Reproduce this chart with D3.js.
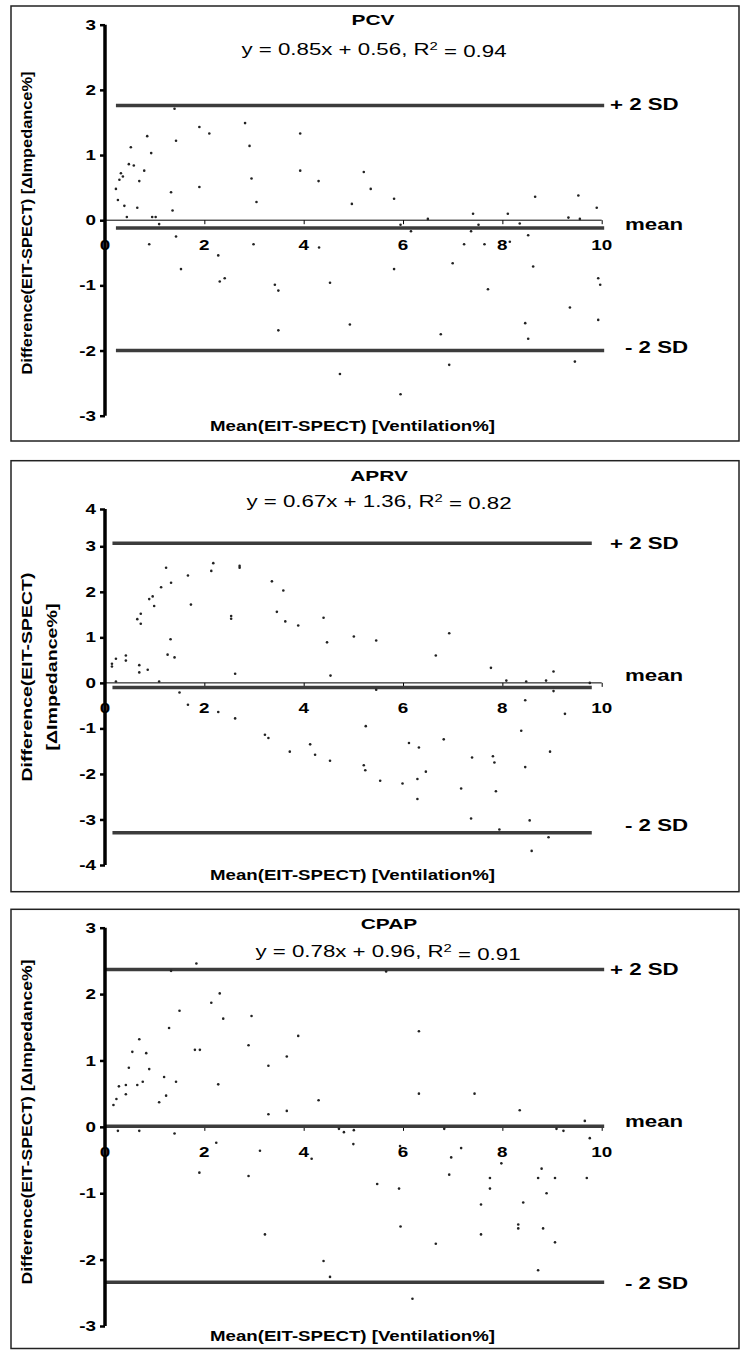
<!DOCTYPE html>
<html>
<head>
<meta charset="utf-8">
<script src="https://cdn.jsdelivr.net/npm/d3@7"></script>
<style>
  body { margin: 0; background: #fff; }
  svg { display: block; }
  text { font-family: "Liberation Sans", Arial, sans-serif; fill: #000; }
</style>
</head>
<body>
<div id="chart"></div>
<script>
// Bland-Altman points, [mean, difference]
var pcvPoints = [
  [1.40,1.71],[1.90,1.43],[2.10,1.33],[2.82,1.49],[2.91,1.14],[3.93,1.33],[3.93,0.76],[4.30,0.60],
  [5.21,0.74],[5.35,0.48],[4.97,0.25],[3.05,0.28],[2.95,0.64],[1.90,0.51],[1.43,1.22],[0.85,1.29],
  [0.93,1.03],[0.52,1.12],[0.48,0.86],[0.58,0.84],[0.79,0.76],[0.69,0.60],[0.29,0.62],[0.32,0.72],
  [0.36,0.67],[0.22,0.48],[0.26,0.31],[0.39,0.22],[0.65,0.19],[1.33,0.43],[1.36,0.15],[0.44,0.05],
  [0.95,0.05],[1.02,0.05],[1.09,-0.06],[0.89,-0.37],[1.43,-0.25],[1.53,-0.75],[2.28,-0.54],[2.31,-0.94],
  [2.41,-0.89],[2.99,-0.37],[3.42,-0.99],[3.49,-1.08],[3.49,-1.69],[4.31,-0.42],[4.53,-0.96],[4.93,-1.60],
  [4.73,-2.36],[5.82,0.33],[6.50,0.02],[7.41,0.10],[8.11,0.10],[8.66,0.36],[9.53,0.38],[9.90,0.19],
  [9.33,0.04],[9.56,0.02],[5.95,-0.07],[6.16,-0.17],[7.52,-0.07],[7.37,-0.17],[8.35,-0.05],[8.52,-0.23],
  [7.23,-0.37],[7.64,-0.37],[8.15,-0.33],[7.00,-0.66],[5.82,-0.75],[8.62,-0.71],[7.71,-1.06],[9.93,-0.89],
  [9.97,-0.99],[9.36,-1.34],[6.76,-1.75],[8.46,-1.58],[8.52,-1.82],[9.93,-1.53],[6.93,-2.22],[9.46,-2.17],
  [5.95,-2.67]
];
var aprvPoints = [
  [1.23,2.53],[1.33,2.20],[1.13,2.10],[0.89,1.84],[0.96,1.90],[0.99,1.69],[0.65,1.40],[0.72,1.52],
  [0.72,1.30],[1.67,2.36],[1.73,1.72],[2.14,2.46],[2.18,2.63],[2.71,2.57],[2.71,2.53],[2.54,1.47],
  [2.54,1.41],[3.36,2.23],[3.59,2.03],[3.46,1.56],[3.63,1.35],[3.89,1.26],[4.40,1.43],[4.47,0.89],
  [5.01,1.02],[5.46,0.93],[6.93,1.09],[6.66,0.60],[1.32,0.96],[1.26,0.62],[1.40,0.56],[0.14,0.42],
  [0.14,0.36],[0.22,0.53],[0.42,0.60],[0.42,0.49],[0.69,0.39],[0.69,0.23],[0.86,0.29],[0.22,0.03],
  [1.09,0.03],[2.62,0.20],[4.54,0.16],[1.50,-0.21],[1.67,-0.48],[2.28,-0.64],[2.62,-0.78],[3.22,-1.14],
  [3.29,-1.21],[3.72,-1.51],[4.13,-1.35],[4.23,-1.58],[4.53,-1.71],[5.25,-0.95],[5.21,-1.81],[5.24,-1.92],
  [7.77,0.33],[9.03,0.25],[8.08,0.05],[8.48,0.03],[8.88,0.05],[9.76,0.00],[5.46,-0.15],[9.03,-0.18],
  [8.46,-0.38],[9.26,-0.68],[8.38,-1.05],[6.12,-1.32],[6.32,-1.42],[6.82,-1.24],[8.96,-1.51],[7.39,-1.64],
  [7.81,-1.61],[7.84,-1.75],[8.46,-1.85],[6.46,-1.95],[5.54,-2.15],[5.99,-2.21],[6.29,-2.11],[7.17,-2.32],
  [7.87,-2.38],[6.29,-2.55],[7.37,-2.98],[8.55,-3.02],[7.94,-3.22],[8.93,-3.39],[8.59,-3.69]
];
var cpapPoints = [
  [1.84,2.46],[1.33,2.35],[5.66,2.34],[2.31,2.01],[2.14,1.87],[1.50,1.75],[2.38,1.63],[2.95,1.67],
  [1.29,1.49],[0.69,1.32],[0.55,1.13],[0.83,1.11],[1.81,1.16],[1.91,1.16],[2.89,1.23],[3.89,1.37],
  [3.66,1.06],[3.29,0.92],[0.48,0.89],[0.89,0.87],[0.28,0.61],[0.42,0.63],[0.65,0.63],[0.76,0.68],
  [1.19,0.75],[1.43,0.68],[2.28,0.64],[0.42,0.49],[0.23,0.42],[0.17,0.33],[1.09,0.37],[1.23,0.47],
  [3.29,0.19],[3.66,0.24],[4.30,0.40],[6.32,1.44],[6.32,0.50],[7.44,0.50],[8.35,0.25],[9.66,0.09],
  [0.26,-0.06],[0.69,-0.06],[1.40,-0.10],[4.71,-0.03],[4.81,-0.08],[5.01,-0.05],[2.24,-0.24],[3.12,-0.36],
  [5.00,-0.26],[1.90,-0.69],[2.89,-0.74],[4.16,-0.48],[3.22,-1.62],[4.40,-2.02],[4.53,-2.26],[6.83,-0.03],
  [9.09,-0.03],[9.23,-0.06],[5.94,-0.29],[7.17,-0.32],[6.97,-0.46],[9.76,-0.17],[7.98,-0.55],[8.79,-0.63],
  [8.72,-0.77],[9.06,-0.77],[9.70,-0.77],[6.93,-0.72],[7.75,-0.77],[7.75,-0.93],[8.89,-1.00],[5.48,-0.86],
  [5.92,-0.93],[7.57,-1.17],[8.42,-1.14],[8.32,-1.47],[8.32,-1.53],[8.82,-1.53],[5.95,-1.50],[7.57,-1.62],
  [6.66,-1.76],[9.06,-1.74],[8.72,-2.16],[6.19,-2.59]
];

// limits of agreement: +2 SD, mean, -2 SD
var pcvLimits = [1.76, -0.12, -2.00];
var aprvLimits = [3.08, -0.10, -3.29];
var cpapLimits = [2.37, 0.01, -2.34];
var limitLabels = ["+ 2 SD", "mean", "- 2 SD"];

// where the limit lines start and stop on the x axis
var pcvLineSpan = [0.22, 10.05];
var aprvLineSpan = [0.15, 9.8];
var cpapLineSpan = [0, 10.05];

var titles = ["PCV", "APRV", "CPAP"];
var slopes = ["0.85", "0.67", "0.78"];
var intercepts = ["0.56", "1.36", "0.96"];
var rSquared = ["0.94", "0.82", "0.91"];

var xTicks = [0, 2, 4, 6, 8, 10];
var pcvYTicks = [-3, -2, -1, 0, 1, 2, 3];
var aprvYTicks = [-4, -3, -2, -1, 0, 1, 2, 3, 4];
var cpapYTicks = [-3, -2, -1, 0, 1, 2, 3];

var xTitle = "Mean(EIT-SPECT) [Ventilation%]";
var yTitle = "Difference(EIT-SPECT) [\u0394Impedance%]";

// Layout
var width = 740, height = 1351;
var stretch = 1.35; // the figure is stretched sideways
var lineColor = "#3c3c3c";

var panels = [
  { points: pcvPoints, limits: pcvLimits, span: pcvLineSpan, yTicks: pcvYTicks,
    yDomain: [-3, 3], yRange: [415.7, 24.7], box: [6, 441],
    titleX: 373, titleY: 20, eqX: 374, eqY: 49, xTitleY: 426.5,
    labelDy: [-1, -4, -3], yTitleLines: [yTitle], yTitleX: [27], yTitleY: 223, yTitleLen: [303] },
  { points: aprvPoints, limits: aprvLimits, span: aprvLineSpan, yTicks: aprvYTicks,
    yDomain: [-4, 3, 4], yRange: [865, 546.3, 509], box: [460.7, 891.7],
    titleX: 379, titleY: 475.5, eqX: 379, eqY: 501, xTitleY: 875,
    labelDy: [0, -12, -7], yTitleLines: ["Difference(EIT-SPECT)", "[\u0394Impedance%]"],
    yTitleX: [27, 52], yTitleY: 677, yTitleLen: [209, 147] },
  { points: cpapPoints, limits: cpapLimits, span: cpapLineSpan, yTicks: cpapYTicks,
    yDomain: [-3, 3], yRange: [1326, 927.7], box: [909.3, 1348.5],
    titleX: 389, titleY: 924, eqX: 388, eqY: 951.5, xTitleY: 1336.5,
    labelDy: [0, -5, 1], yTitleLines: [yTitle], yTitleX: [27], yTitleY: 1122, yTitleLen: [325] }
];

var xScale = d3.scaleLinear().domain([0, 10]).range([105, 601.7]);

var svg = d3.select("#chart").append("svg")
  .attr("width", width)
  .attr("height", height);

// horizontal text, squeezed out sideways like the source picture
function addText(parent, x, y, str, size, weight, sx, anchor) {
  return parent.append("text")
    .attr("transform", "translate(" + x + "," + y + ") scale(" + sx + ",1)")
    .attr("text-anchor", anchor || "middle")
    .attr("dy", "0.35em")
    .style("font-size", size + "px")
    .style("font-weight", weight)
    .text(str);
}

function render(p, i) {
  var g = svg.append("g");
  var yScale = d3.scaleLinear().domain(p.yDomain).range(p.yRange);

  // frame
  g.append("rect")
    .attr("x", 11).attr("y", p.box[0])
    .attr("width", 728).attr("height", p.box[1] - p.box[0])
    .attr("fill", "none").attr("stroke", "#222").attr("stroke-width", 1.5);

  // x axis sits on zero
  var xAxis = d3.axisBottom(xScale).tickValues(xTicks.slice(1)).tickSize(4).tickFormat("");
  var xAxisG = g.append("g").attr("transform", "translate(0," + yScale(0) + ")").call(xAxis);
  xAxisG.select(".domain").attr("d", "M105,0H" + xScale(10)).attr("stroke", "#000").attr("stroke-width", 1);
  xAxisG.selectAll(".tick line").attr("stroke", "#000");

  // limit lines
  g.selectAll(".limit").data(p.limits).enter().append("line")
    .attr("class", "limit")
    .attr("x1", xScale(p.span[0])).attr("x2", xScale(p.span[1]))
    .attr("y1", function(d) { return yScale(d); })
    .attr("y2", function(d) { return yScale(d); })
    .attr("stroke", lineColor).attr("stroke-width", 3.5);

  // y axis
  var yAxis = d3.axisLeft(yScale).tickValues(p.yTicks).tickSize(5).tickFormat("");
  var yAxisG = g.append("g").attr("transform", "translate(105,0)").call(yAxis);
  yAxisG.select(".domain").attr("d", "M0," + yScale(p.yTicks[0]) + "V" + yScale(p.yTicks[p.yTicks.length - 1]))
    .attr("stroke", "#000").attr("stroke-width", 3.5);
  yAxisG.selectAll(".tick line").attr("stroke", "#000").attr("stroke-width", 2.5);

  p.yTicks.forEach(function(t) {
    addText(g, 96, yScale(t), t, 14.5, "bold", 1.3, "end");
  });
  xTicks.forEach(function(t) {
    addText(g, xScale(t), yScale(0) + 25, t, 14.5, "bold", 1.3);
  });

  // points
  g.selectAll("circle").data(p.points).enter().append("circle")
    .attr("cx", function(d) { return xScale(d[0]); })
    .attr("cy", function(d) { return yScale(d[1]); })
    .attr("r", 1.3)
    .attr("fill", "#222");

  // limit labels
  p.limits.forEach(function(v, k) {
    var x = k === 0 ? 610 : 625;
    addText(g, x, yScale(v) + p.labelDy[k], limitLabels[k], 16.5, "bold", stretch, "start");
  });

  // title and regression equation
  addText(g, p.titleX, p.titleY, titles[i], 15.5, "bold", stretch);
  var eq = addText(g, p.eqX, p.eqY, "", 16.5, "normal", stretch);
  eq.append("tspan").text("y = " + slopes[i] + "x + " + intercepts[i] + ", R");
  eq.append("tspan").attr("dy", "-0.45em").style("font-size", "11px").text("2");
  eq.append("tspan").attr("dy", "0.45em").text(" = " + rSquared[i]);

  // axis titles
  g.append("text")
    .attr("transform", "translate(352.5," + p.xTitleY + ")")
    .attr("text-anchor", "middle").attr("dy", "0.35em")
    .attr("textLength", 285).attr("lengthAdjust", "spacingAndGlyphs")
    .style("font-size", "14px").style("font-weight", "bold")
    .text(xTitle);

  p.yTitleLines.forEach(function(line, k) {
    g.append("text")
      .attr("transform", "translate(" + p.yTitleX[k] + "," + p.yTitleY + ") rotate(-90)")
      .attr("text-anchor", "middle").attr("dy", "0.35em")
      .attr("textLength", p.yTitleLen[k]).attr("lengthAdjust", "spacingAndGlyphs")
      .style("font-size", "14px").style("font-weight", "bold")
      .text(line);
  });
}

panels.forEach(render);
</script>
</body>
</html>
